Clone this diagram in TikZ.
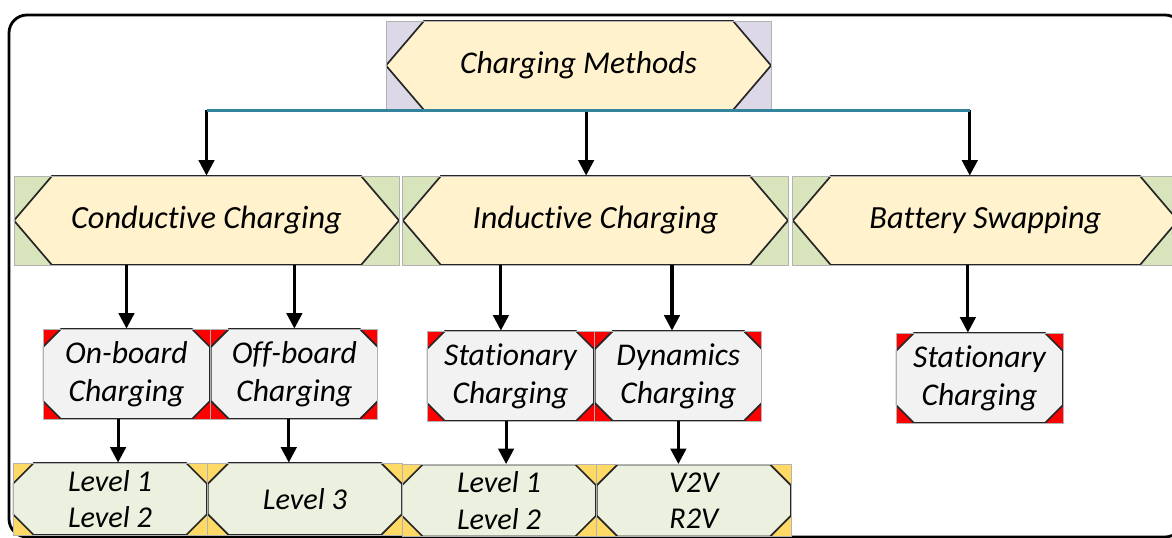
\documentclass[tikz,border=0pt]{standalone}
\usepackage{fontspec}
\setmainfont{Carlito}[Ligatures=NoCommon]
\usepackage{xcolor}
\usetikzlibrary{arrows.meta,positioning,calc}

\definecolor{creamfill}{RGB}{255,242,204}
\definecolor{lavbg}{RGB}{221,216,232}
\definecolor{greenbg}{RGB}{216,228,188}
\definecolor{greyfill}{RGB}{242,242,242}
\definecolor{levelfill}{RGB}{235,241,222}
\definecolor{goldcorner}{RGB}{255,217,102}
\definecolor{busteal}{RGB}{49,132,155}

\begin{document}
\begin{tikzpicture}[
    x=0.025cm, y=-0.025cm,
    node distance=0pt,
    hexbox/.style={rectangle, draw=gray!60, line width=0.6pt, fill=#1, inner sep=0pt,
      minimum width=9.625cm, minimum height=2.225cm,
      path picture={
        \filldraw[draw=black!85, fill=creamfill, line width=1.2pt]
          ([xshift=0.95cm]path picture bounding box.north west)
          -- ([xshift=-0.95cm]path picture bounding box.north east)
          -- (path picture bounding box.east)
          -- ([xshift=-0.95cm]path picture bounding box.south east)
          -- ([xshift=0.95cm]path picture bounding box.south west)
          -- (path picture bounding box.west) -- cycle;}},
    octbox/.style n args={3}{rectangle, draw=gray!60, line width=0.6pt, fill=#1, inner sep=0pt, align=center,
      path picture={
        \filldraw[draw=black!85, fill=#2, line width=1.2pt]
          ([xshift=#3]path picture bounding box.north west)
          -- ([xshift=-#3]path picture bounding box.north east)
          -- ([yshift=-#3]path picture bounding box.north east)
          -- ([yshift=#3]path picture bounding box.south east)
          -- ([xshift=-#3]path picture bounding box.south east)
          -- ([xshift=#3]path picture bounding box.south west)
          -- ([yshift=#3]path picture bounding box.south west)
          -- ([yshift=-#3]path picture bounding box.north west) -- cycle;}},
    subbox/.style={octbox={red}{greyfill}{0.45cm}, minimum width=4.175cm, minimum height=2.25cm,
      font=\itshape\fontsize{22.5}{27}\selectfont},
    levelbox/.style={octbox={goldcorner}{levelfill}{0.52cm}, minimum width=4.85cm, minimum height=1.8cm,
      font=\itshape\fontsize{21.5}{26}\selectfont},
    arrow/.style={-{Triangle[length=11pt,width=11pt]}, line width=2.2pt, black},
    bus/.style={line width=2.6pt, busteal}
]
    \useasboundingbox (0,0) rectangle (1172,538);
    \draw[line width=2pt, rounded corners=0.45cm] (9,15) rectangle (1183,537);

    % top
    \node[hexbox=lavbg, font=\itshape\fontsize{22.5}{26}\selectfont] (methods) at (578.5,65.5) {Charging Methods};

    % second row
    \node[hexbox=greenbg, font=\itshape\fontsize{23}{28}\selectfont] (conductive) at (206.5,220.5) {Conductive Charging};
    \node[hexbox=greenbg, font=\itshape\fontsize{23}{28}\selectfont, right=0.075cm of conductive] (inductive) {Inductive Charging};
    \node[hexbox=greenbg, font=\itshape\fontsize{23}{28}\selectfont, right=0.1cm of inductive] (swapping) {Battery Swapping};

    % third row
    \node[subbox] (onboard) at (126.5,374) {On-board\\Charging};
    \node[subbox, right=of onboard] (offboard) {Off-board\\Charging};
    \node[subbox] (stationary) at (510.5,376) {Stationary\\Charging};
    \node[subbox, right=of stationary] (dynamics) {Dynamics\\Charging};
    \node[subbox] (swapstat) at (979.5,378) {Stationary\\Charging};

    % fourth row
    \node[levelbox] (condlevels) at (110,499) {Level 1\\Level 2};
    \node[levelbox, right=of condlevels] (levelthree) {Level 3};
    \node[levelbox] (indlevels) at (499,500.5) {Level 1\\Level 2};
    \node[levelbox, right=of indlevels] (vehicle) {V2V\\R2V};

    % bus from top
    \coordinate (busL) at (conductive.north |- methods.south);
    \coordinate (busM) at ([xshift=0.19cm]methods.south);
    \coordinate (busR) at ([xshift=-0.39cm]swapping.north |- methods.south);
    \draw[arrow] (busL) -- (conductive.north);
    \draw[arrow] (busM) -- (busM |- inductive.north);
    \draw[arrow] (busR) -- (busR |- swapping.north);
    \draw[bus] (busL) -- (busR);

    % second to third row
    \draw[arrow] (onboard.north |- conductive.south) -- (onboard.north);
    \draw[arrow] (offboard.north |- conductive.south) -- (offboard.north);
    \draw[arrow] ([xshift=-0.24cm]stationary.north |- inductive.south) -- ([xshift=-0.24cm]stationary.north);
    \draw[arrow] ([xshift=-0.16cm]dynamics.north |- inductive.south) -- ([xshift=-0.16cm]dynamics.north);
    \draw[arrow] ([xshift=-0.29cm]swapstat.north |- swapping.south) -- ([xshift=-0.29cm]swapstat.north);

    % third to fourth row
    \draw[arrow] ([xshift=-0.21cm]onboard.south) -- ([xshift=-0.21cm]onboard.south |- condlevels.north);
    \draw[arrow] ([xshift=-0.14cm]offboard.south) -- ([xshift=-0.14cm]offboard.south |- levelthree.north);
    \draw[arrow] ([xshift=-0.11cm]stationary.south) -- ([xshift=-0.11cm]stationary.south |- indlevels.north);
    \draw[arrow] (dynamics.south) -- (dynamics.south |- vehicle.north);
\end{tikzpicture}
\end{document}
